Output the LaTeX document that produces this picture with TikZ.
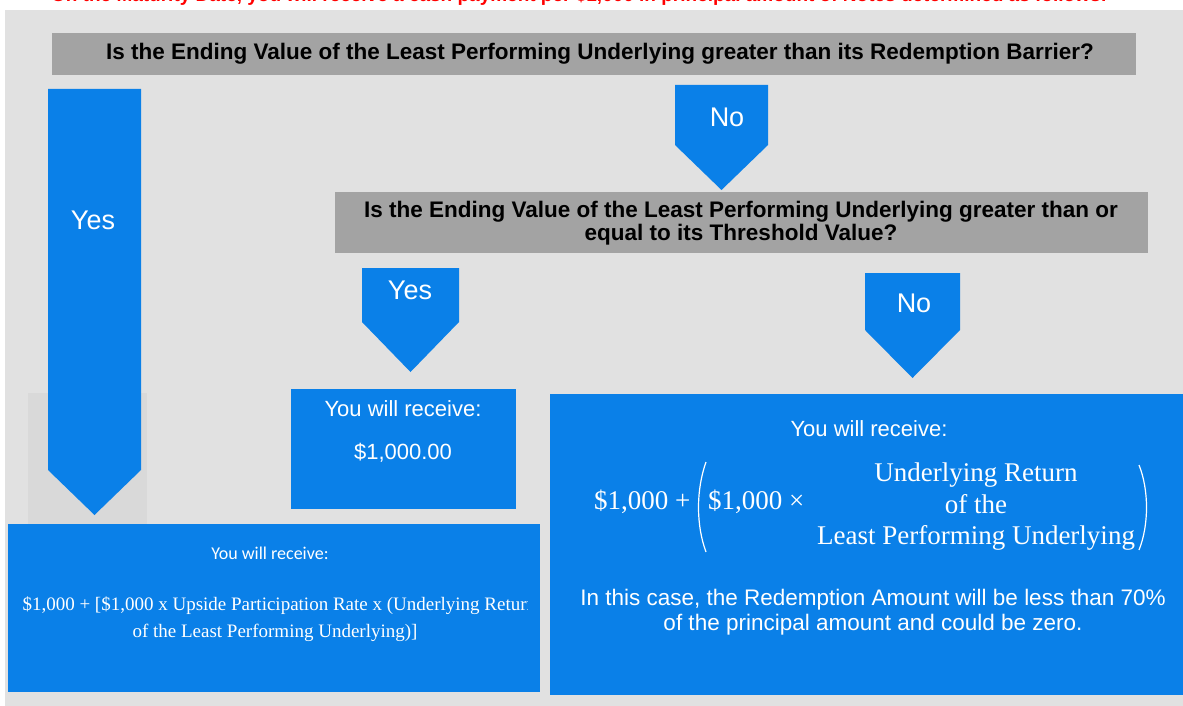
\documentclass[tikz,border=0pt]{standalone}
\usepackage{fontspec}
\setmainfont{Liberation Sans}
\newfontfamily\payserif{Liberation Serif}
\newfontfamily\paycalib{Carlito}
\usepackage{tikz}
\definecolor{panel}{HTML}{E1E1E1}
\definecolor{bar}{HTML}{A3A3A3}
\definecolor{flow}{HTML}{0A80E8}
\definecolor{panelshadow}{HTML}{D9D9D9}

\begin{document}
\begin{tikzpicture}[x=1pt,y=-1pt,
  question/.style={font=\bfseries\fontsize{22.5}{23}\selectfont,align=center,inner sep=0},
  answer/.style={text=white,font=\fontsize{22}{25}\selectfont,inner sep=0},
  formula/.style={text=white,font=\payserif\fontsize{27}{31.5}\selectfont,inner sep=0}]
\useasboundingbox (0,0) rectangle (1183,706);
\fill[panel] (5,10) rectangle (1183,706);
\node[anchor=base,text=red,font=\bfseries\fontsize{19}{20}\selectfont] (head) at (579,2) {On the Maturity Date, you will receive a cash payment per \$1,000 in principal amount of Notes determined as follows:};
% questions
\fill[bar] (52,33) rectangle (1136,75);
\node[question] (q1) at (600,54) {Is the Ending Value of the Least Performing Underlying greater than its Redemption Barrier?};
\fill[bar] (335,192) rectangle (1148,253);
\node[question] (q2) at (741,223) {Is the Ending Value of the Least Performing Underlying greater than or\\equal to its Threshold Value?};
\fill[panelshadow] (28,393) rectangle (147,692);
% answer arrows
\foreach \xl/\xr/\yt/\ys/\yp/\lx/\ly/\lab/\nm in {48/141/89/470/515/93/220/Yes/yes1, 675/768/85/145/190/727/117/No/no1, 362/459/268/322/372/410/290/Yes/yes2, 865/960/273/330/378/914/303/No/no2}
{
	\fill[flow] (\xl,\yt) -- (\xr,\yt) -- (\xr,\ys) -- ({(\xl+\xr)/2},\yp) -- (\xl,\ys) -- cycle;
	\node[answer,font=\fontsize{27}{30}\selectfont] (\nm) at (\lx,\ly) {\lab};
}
% payments
\fill[flow] (291,389) rectangle (516,509);
\node[answer] (get2) at (403,409) {You will receive:};
\node[answer] (pay2) at (403,453) {\$1,000.00};
\fill[flow] (8,524) rectangle (540,692);
\node[text=white,font=\paycalib\fontsize{18}{20}\selectfont] (get1) at (270,553) {You will receive:};
\begin{scope}
\clip (8,524) rectangle (527,692);
\node[anchor=west,text=white,font=\payserif\fontsize{19}{20}\selectfont] (pay1) at (19,606) {\$1,000 + [\$1,000 x Upside Participation Rate x (Underlying Return};
\end{scope}
\node[text=white,font=\payserif\fontsize{19}{20}\selectfont] (pay1b) at (275,633) {of the Least Performing Underlying)]};
\fill[flow] (550,394) rectangle (1183,695);
\node[answer] (get3) at (869,429) {You will receive:};
\node[formula,anchor=west] (base3) at (594,502) {\$1,000 +};
\node[formula,anchor=west] (times3) at (708,502) {\$1,000 ×};
\node[formula,align=center] (ret3) at (976,507) {Underlying Return\\of the\\Least Performing Underlying};
\draw[white,line width=1.2] (706,462) .. controls (696,490) and (696,525) .. (706,552);
\draw[white,line width=1.2] (1139,465) .. controls (1149,490) and (1149,525) .. (1139,550);
\node[answer,align=center,font=\fontsize{22.5}{25}\selectfont] (note3) at (873,612) {In this case, the Redemption Amount will be less than 70\%\\of the principal amount and could be zero.};
\end{tikzpicture}
\end{document}
